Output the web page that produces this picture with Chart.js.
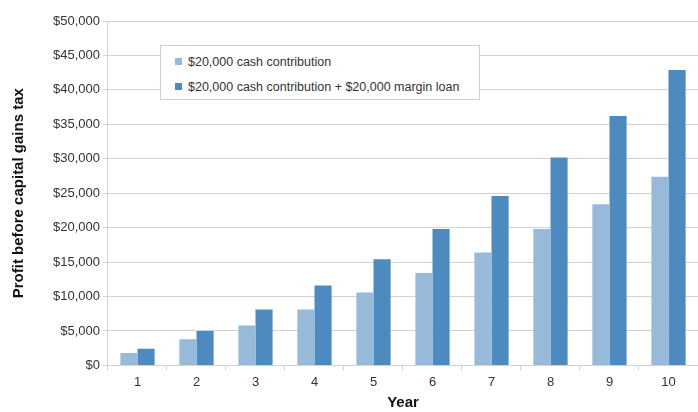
<!DOCTYPE html>
<html>
<head>
<meta charset="utf-8">
<script src="https://cdn.jsdelivr.net/npm/chart.js@4.4.1/dist/chart.umd.min.js"></script>
<style>
  html, body { margin: 0; padding: 0; background: #fff; }
  #wrap { position: relative; width: 698px; height: 412px; }
  #legend {
    position: absolute; left: 160px; top: 45px; width: 320px; height: 55px;
    border: 1px solid #cfcfcf; background: #fff; box-sizing: border-box;
    font-family: 'Liberation Sans', Arial, sans-serif; font-size: 12.5px; color: #333;
    padding: 5px 0 0 14px;
  }
  #legend div { height: 25px; line-height: 22px; white-space: nowrap; }
  #legend span { display: inline-block; width: 7px; height: 7px; margin-right: 6px; vertical-align: 1px; }
</style>
</head>
<body>
<div id="wrap">
  <canvas id="c" width="698" height="412"></canvas>
  <div id="legend"></div>
</div>
<script>
const years = ['1','2','3','4','5','6','7','8','9','10'];
const cashOnly = [1800, 3800, 5800, 8100, 10600, 13400, 16400, 19800, 23400, 27400];
const withLoan = [2400, 5000, 8100, 11600, 15400, 19800, 24600, 30200, 36200, 42900];
const yTicks = [0, 5000, 10000, 15000, 20000, 25000, 30000, 35000, 40000, 45000, 50000];
const seriesNames = ['$20,000 cash contribution', '$20,000 cash contribution + $20,000 margin loan'];
const seriesColors = ['#97b9da', '#4d8abf'];

const font = "'Liberation Sans', Arial, sans-serif";
const tc = '#333', gc = '#d3d3d3';

const chart = new Chart(document.getElementById('c'), {
  type: 'bar',
  data: {
    labels: years,
    datasets: [
      { label: seriesNames[0], data: cashOnly, backgroundColor: seriesColors[0] },
      { label: seriesNames[1], data: withLoan, backgroundColor: seriesColors[1] }
    ]
  },
  options: {
    responsive: false, animation: false,
    layout: { padding: { top: 21, right: 0, left: 6, bottom: 0 } },
    datasets: { bar: { barPercentage: 1, categoryPercentage: 0.58 } },
    plugins: { legend: { display: false }, tooltip: { enabled: false } },
    scales: {
      x: {
        grid: { display: true, drawOnChartArea: false, offset: true, color: gc, tickLength: 5 },
        border: { color: gc },
        ticks: { color: tc, font: { family: font, size: 13 }, padding: 4 },
        title: { display: true, text: 'Year', color: '#111', font: { family: font, size: 15, weight: 'bold' }, padding: { top: 0, bottom: 0 } }
      },
      y: {
        min: 0, max: 50000,
        afterBuildTicks: s => { s.ticks = yTicks.map(v => ({ value: v })); },
        grid: { color: gc, tickLength: 5 },
        border: { color: gc },
        ticks: { color: tc, font: { family: font, size: 13 }, padding: 3,
          callback: v => '$' + v.toLocaleString('en-US') },
        title: { display: true, text: 'Profit before capital gains tax', color: '#111', font: { family: font, size: 15, weight: 'bold' }, padding: { bottom: 22 } }
      }
    }
  }
});

document.getElementById('legend').innerHTML = chart.data.datasets.map(d =>
  `<div><span style="background:${d.backgroundColor}"></span>${d.label}</div>`).join('');
</script>
</body>
</html>
